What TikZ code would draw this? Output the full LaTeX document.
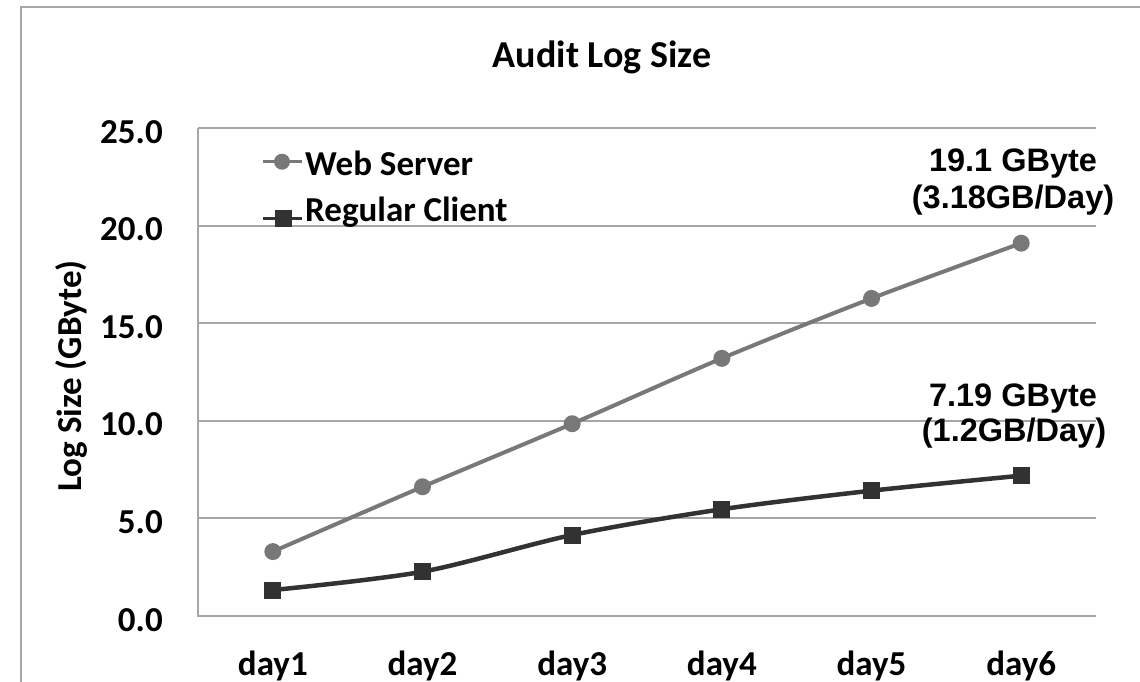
\documentclass[tikz,border=0pt]{standalone}
\usepackage{fontspec}
\setmainfont{Carlito}
\newfontfamily\arialfont{Liberation Sans}
\definecolor{gridgray}{RGB}{166,166,166}
\definecolor{webgray}{RGB}{120,120,120}
\definecolor{clientdark}{RGB}{50,50,50}
\begin{document}
\begin{tikzpicture}[x=1pt,y=-1pt,
  grid/.style={draw=gridgray,line width=2pt},
  frameline/.style={draw=gridgray,line width=2.2pt},
  lbl/.style={font=\fontsize{35}{42}\selectfont\bfseries,inner sep=0pt},
  ann/.style={font=\arialfont\fontsize{32.5}{37}\selectfont\bfseries,inner sep=0pt,align=center},
  webline/.style={draw=webgray,line width=4pt},
  clientline/.style={draw=clientdark,line width=4.5pt},
  webmark/.style={fill=webgray,draw=none},
  clientmark/.style={fill=clientdark,draw=none}]
\useasboundingbox (0,0) rectangle (1140,681);
% outer frame (cropped at right and bottom)
\coordinate (fbl) at (21,690);
\coordinate (ftl) at (21,7);
\coordinate (ftr) at (1150,7);
\draw[frameline] (fbl) -- (ftl) -- (ftr);
% title
\node[lbl,anchor=base] (title) at (602,67) {\fontsize{38}{44}\selectfont Audit Log Size};
% gridlines
\foreach \v/\n in {0/0,5/1,10/2,15/3,20/4,25/5}{
  \coordinate (gl\n) at (198,{616-19.52*\v});
  \coordinate (gr\n) at (1096,{616-19.52*\v});
}
\foreach \n in {1,2,3,4,5}{\draw[grid] (gl\n) -- (gr\n);}
\coordinate (axtop) at (198,128);
\draw[grid] (axtop) -- (gl0) -- (gr0);
% y tick labels
\foreach \v/\t in {0/0.0,5/5.0,10/10.0,15/15.0,20/20.0,25/25.0}{
  \node[lbl,anchor=base east] (yt\v) at (163,{631-19.52*\v}) {\t};
}
% y axis title
\node[lbl,rotate=90,anchor=center] (ytitle) at (71,376) {Log Size (GByte)};
% x labels
\foreach \i in {1,...,6}{
  \node[lbl,anchor=base] (xl\i) at ({198+149.67*(\i-0.5)},675) {day\i};
}
% data
\foreach \i/\w/\c in {1/3.3/1.33,2/6.62/2.27,3/9.85/4.15,4/13.2/5.47,5/16.27/6.42,6/19.1/7.19}{
  \coordinate (w\i) at ({198+149.67*(\i-0.5)},{616-19.52*\w});
  \coordinate (c\i) at ({198+149.67*(\i-0.5)},{616-19.52*\c});
}
\draw[webline] plot[smooth,tension=0.5] coordinates {(w1) (w2) (w3) (w4) (w5) (w6)};
\draw[clientline] plot[smooth,tension=0.5] coordinates {(c1) (c2) (c3) (c4) (c5) (c6)};
\foreach \i in {1,...,6}{
  \fill[webmark] (w\i) circle (8.5);
  \fill[clientmark] ([shift={(-8.5,-8.5)}]c\i) rectangle ([shift={(8.5,8.5)}]c\i);
}
% legend
\coordinate (lw1) at (263,161.7);
\coordinate (lw2) at (302,161.7);
\coordinate (lwm) at (282,161.7);
\draw[webline,line width=3.5pt] (lw1) -- (lw2);
\fill[webmark] (lwm) circle (8);
\node[lbl,anchor=base west] (legweb) at (305,175) {Web Server};
\coordinate (lc1) at (263,218.5);
\coordinate (lc2) at (302,218.5);
\coordinate (lcm) at (283,218.5);
\draw[clientline,line width=3.5pt] (lc1) -- (lc2);
\fill[clientmark] ([shift={(-8.5,-8.5)}]lcm) rectangle ([shift={(8.5,8.5)}]lcm);
\node[lbl,anchor=base west] (legcl) at (305,221.7) {Regular Client};
% annotations
\node[ann,anchor=base] (a1) at (1013,171.7) {19.1 GByte};
\node[ann,anchor=base] (a2) at (1013,208) {(3.18GB/Day)};
\node[ann,anchor=base] (a3) at (1013,406.7) {7.19 GByte};
\node[ann,anchor=base] (a4) at (1014,441.7) {(1.2GB/Day)};
\end{tikzpicture}
\end{document}
